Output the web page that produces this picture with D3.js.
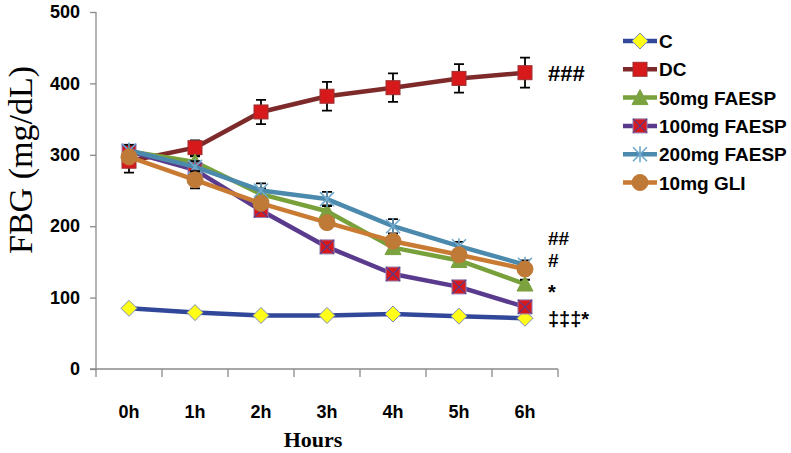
<!DOCTYPE html>
<html>
<head>
<meta charset="utf-8">
<script src="https://cdn.jsdelivr.net/npm/d3@7"></script>
<style>
  body { margin: 0; background: #fff; }
  svg { display: block; }
  .tick text { font-family: "Liberation Sans", Arial, sans-serif; font-weight: bold; }
</style>
</head>
<body>
<svg id="chart" width="791" height="453"></svg>
<script>
const categories = ["0h", "1h", "2h", "3h", "4h", "5h", "6h"];
const seriesNames = ["C", "DC", "50mg FAESP", "100mg FAESP", "200mg FAESP", "10mg GLI"];
const valuesC      = [85, 79, 75, 75, 77, 74, 71];
const valuesDC     = [291, 310, 360, 382, 394, 407, 415];
const values50     = [305, 290, 245, 221, 170, 152, 119];
const values100    = [305, 279, 222, 171, 133, 115, 87];
const values200    = [306, 283, 250, 238, 200, 172, 146];
const valuesGLI    = [297, 265, 232, 205, 179, 160, 140];
const errC   = [0, 0, 0, 0, 0, 0, 0];
const errDC  = [16, 10, 17, 20, 20, 20, 21];
const err50  = [8, 8, 8, 8, 8, 6, 6];
const err100 = [8, 6, 7, 6, 5, 5, 5];
const err200 = [8, 8, 10, 10, 10, 6, 6];
const errGLI = [8, 12, 8, 8, 8, 6, 6];
const yTicks = [0, 100, 200, 300, 400, 500];
const annotations = [
  { text: "###", cat: "6h", value: 415, dy: 8, size: 22 },
  { text: "##", cat: "6h", value: 178, dy: 3, size: 19 },
  { text: "#", cat: "6h", value: 148, dy: 4, size: 19 },
  { text: "*", cat: "6h", value: 115, dy: 12, size: 20 },
  { text: "\u2021\u2021\u2021*", cat: "6h", value: 72, dy: 8, size: 20 }
];

const colors = ["#31479A", "#7E2A2A", "#78A13B", "#5A3A8C", "#4B8AAD", "#C97B33"];
const series = [
  { name: seriesNames[0], values: valuesC, err: errC, marker: "diamond" },
  { name: seriesNames[1], values: valuesDC, err: errDC, marker: "square" },
  { name: seriesNames[2], values: values50, err: err50, marker: "triangle" },
  { name: seriesNames[3], values: values100, err: err100, marker: "xsquare" },
  { name: seriesNames[4], values: values200, err: err200, marker: "star" },
  { name: seriesNames[5], values: valuesGLI, err: errGLI, marker: "circle" }
];

const svg = d3.select("#chart");
const mLeft = 96, mRight = 558, mTop = 12, mBottom = 369;

const x = d3.scaleBand().domain(categories).range([mLeft, mRight]);
const y = d3.scaleLinear().domain([0, 500]).range([mBottom, mTop]);
const cx = c => x(c) + x.bandwidth() / 2;

// Axes
const yAxis = svg.append("g").attr("transform", `translate(${mLeft},0)`)
  .call(d3.axisLeft(y).tickValues(yTicks).tickSize(6).tickPadding(10));
yAxis.selectAll(".tick text").attr("font-size", 18).attr("fill", "#000");
yAxis.selectAll("line, path").attr("stroke", "#8a8a8a").attr("stroke-width", 1.3);
yAxis.select(".domain").attr("d", `M0,${mTop}V${mBottom}`);

const xAxisG = svg.append("g").attr("transform", `translate(0,${mBottom})`);
xAxisG.append("line").attr("x1", mLeft - 6).attr("x2", mRight).attr("y1", 0).attr("y2", 0)
  .attr("stroke", "#8a8a8a").attr("stroke-width", 1.3);
const edges = categories.map(c => x(c)).concat([mRight]);
xAxisG.selectAll("line.tk").data(edges).join("line").attr("class", "tk")
  .attr("x1", d => d).attr("x2", d => d).attr("y1", 0).attr("y2", 8)
  .attr("stroke", "#8a8a8a").attr("stroke-width", 1.3);
xAxisG.selectAll("text").data(categories).join("text")
  .attr("x", d => cx(d)).attr("y", 49).attr("text-anchor", "middle")
  .attr("font-family", "'Liberation Sans', Arial, sans-serif").attr("font-weight", "bold")
  .attr("font-size", 18).attr("fill", "#000").text(d => d);

svg.append("text").attr("x", 313).attr("y", 447).attr("text-anchor", "middle")
  .attr("font-family", "'Liberation Serif', 'Times New Roman', serif").attr("font-weight", "bold")
  .attr("font-size", 22).text("Hours");

svg.append("text").attr("transform", "translate(32,160) rotate(-90)").attr("text-anchor", "middle")
  .attr("font-family", "'Liberation Serif', 'Times New Roman', serif")
  .attr("font-size", 34).text("FBG (mg/dL)");

function drawMarker(g, type, color, px, py) {
  if (type === "diamond") {
    g.append("path").attr("d", `M${px},${py-8}L${px+8},${py}L${px},${py+8}L${px-8},${py}Z`)
      .attr("fill", "#FFFF1A").attr("stroke", "#7C8CB8").attr("stroke-width", 1);
  } else if (type === "square") {
    g.append("rect").attr("x", px-7).attr("y", py-7).attr("width", 14).attr("height", 14)
      .attr("fill", "#D7191C").attr("stroke", "#9E3030").attr("stroke-width", 1);
  } else if (type === "triangle") {
    g.append("path").attr("d", `M${px},${py-8}L${px+8},${py+7}L${px-8},${py+7}Z`)
      .attr("fill", "#7BA23F").attr("stroke", "#7BA23F").attr("stroke-width", 1);
  } else if (type === "xsquare") {
    g.append("rect").attr("x", px-7).attr("y", py-7).attr("width", 14).attr("height", 14)
      .attr("fill", "#D7191C").attr("stroke", "#8E7FB8").attr("stroke-width", 1);
    g.append("path").attr("d", `M${px-7},${py-7}L${px+7},${py+7}M${px+7},${py-7}L${px-7},${py+7}`)
      .attr("stroke", "#5A3A8C").attr("stroke-width", 1.2);
  } else if (type === "star") {
    g.append("path").attr("d", `M${px-7},${py-7}L${px+7},${py+7}M${px+7},${py-7}L${px-7},${py+7}M${px},${py-8}L${px},${py+8}`)
      .attr("stroke", "#6FA8CC").attr("stroke-width", 1.6);
  } else if (type === "circle") {
    g.append("circle").attr("cx", px).attr("cy", py).attr("r", 8)
      .attr("fill", "#BF7A38").attr("stroke", "#BF7A38");
  }
}

const line = d3.line().x((d, i) => cx(categories[i])).y(d => y(d));

series.forEach((s, si) => {
  const g = svg.append("g");
  g.append("path").datum(s.values).attr("d", line).attr("fill", "none")
    .attr("stroke", colors[si]).attr("stroke-width", 4.5).attr("stroke-linejoin", "round");
  s.values.forEach((v, i) => {
    const e = s.err[i];
    if (!e) return;
    const px = cx(categories[i]);
    g.append("path").attr("d",
      `M${px},${y(v+e)}V${y(v-e)}M${px-5},${y(v+e)}H${px+5}M${px-5},${y(v-e)}H${px+5}`)
      .attr("stroke", "#000").attr("stroke-width", 1.8).attr("fill", "none");
  });
  s.values.forEach((v, i) => drawMarker(g, s.marker, colors[si], cx(categories[i]), y(v)));
});

annotations.forEach(a => {
  svg.append("text").attr("x", cx(a.cat) + 23).attr("y", y(a.value) + a.dy)
    .attr("font-family", "'Liberation Sans', Arial, sans-serif").attr("font-weight", "bold")
    .attr("font-size", a.size).attr("fill", "#000").text(a.text);
});

const legend = svg.append("g");
series.forEach((s, i) => {
  const ly = 41 + i * 28.3;
  legend.append("line").attr("x1", 623).attr("x2", 657).attr("y1", ly).attr("y2", ly)
    .attr("stroke", colors[i]).attr("stroke-width", 4.5);
  drawMarker(legend, s.marker, colors[i], 640, ly);
  legend.append("text").attr("x", 659).attr("y", ly + 7)
    .attr("font-family", "'Liberation Sans', Arial, sans-serif").attr("font-weight", "bold")
    .attr("font-size", 19).attr("fill", "#000").text(s.name);
});
</script>
</body>
</html>
